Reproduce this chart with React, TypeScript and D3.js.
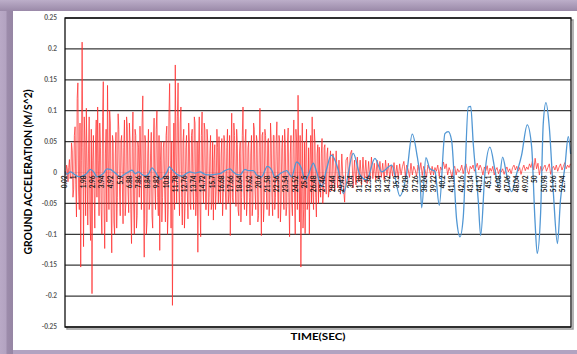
import React from "react";
import * as d3 from "d3";

const W = 577;
const H = 354;

// x tick labels (time, s)
const xLabels: string[] = [
  "0.02", "1", "1.98", "2.96", "3.94", "4.92", "5.9", "6.88", "7.86", "8.84", "9.82",
  "10.8", "11.78", "12.76", "13.74", "14.72", "15.7", "16.68", "17.66", "18.64", "19.62",
  "20.6", "21.58", "22.56", "23.54", "24.52", "25.5", "26.48", "27.46", "28.44", "29.42",
  "30.4", "31.38", "32.36", "33.34", "34.32", "35.3", "36.28", "37.26", "38.24", "39.22",
  "40.2", "41.18", "42.16", "43.14", "44.12", "45.1", "46.08", "47.06", "48.04", "49.02",
  "50", "50.98", "51.96", "52.94",
];

const yTicks: number[] = [0.25, 0.2, 0.15, 0.1, 0.05, 0, -0.05, -0.1, -0.15, -0.2, -0.25];
const yTickLabels: string[] = ["0.25", "0.2", "0.15", "0.1", "0.05", "0", "-0.05", "-0.1", "-0.15", "-0.2", "-0.25"];

// red series, strong-motion part: every 0.075 s from 0.02 s
const redDenseStart = 0.02;
const redDenseStep = 0.075;
const redDense: number[] = [
  0.002, -0.004, 0.012, 0.006, -0.015, 0.008, 0.021, -0.01, -0.006, 0.048, 0.035, -0.04, -0.028, 0.06, 0.074, -0.02, -0.072, 0.12, 0.145, -0.03,
  -0.06, 0.08, -0.153, 0.02, 0.211, 0.04, -0.12, 0.09, 0.05, -0.07, 0.104, 0.01, -0.085, 0.03, 0.09, -0.06, -0.11, 0.07, -0.196, 0.02,
  0.06, -0.03, -0.09, 0.05, 0.085, -0.04, 0.106, 0.02, -0.07, 0.08, 0.04, -0.06, -0.1, 0.09, 0.147, -0.05, -0.123, 0.03, 0.07, -0.08,
  0.141, 0.02, -0.06, 0.1, 0.08, -0.05, -0.13, 0.06, 0.05, -0.08, -0.1, 0.03, 0.065, -0.09, -0.04, 0.095, 0.07, -0.03, -0.07, 0.05,
  0.06, -0.02, -0.083, 0.04, 0.085, -0.07, -0.05, 0.09, 0.075, -0.03, -0.065, 0.08, 0.05, -0.06, -0.115, 0.04, 0.098, -0.05, -0.1, 0.07,
  0.06, -0.09, -0.07, 0.05, 0.04, -0.04, 0.075, 0.02, -0.06, 0.08, 0.124, -0.03, -0.137, 0.06, 0.05, -0.1, -0.08, 0.03, 0.07, -0.06,
  -0.05, 0.03, 0.065, -0.07, -0.09, 0.05, 0.088, -0.02, -0.06, 0.07, 0.1, -0.04, -0.07, 0.06, -0.126, 0.02, 0.05, -0.08, -0.04, 0.04,
  0.05, -0.03, -0.08, 0.06, 0.075, -0.1, -0.06, 0.09, 0.144, 0.02, -0.09, 0.05, -0.215, -0.02, 0.08, -0.06, 0.174, 0.03, -0.05, 0.09,
  0.145, -0.02, -0.07, 0.08, 0.106, -0.04, -0.085, 0.05, 0.07, -0.09, -0.05, 0.04, 0.06, -0.03, -0.075, 0.08, 0.05, -0.05, -0.06, 0.06,
  0.07, -0.03, -0.06, 0.09, 0.08, -0.07, -0.04, 0.05, -0.129, 0.03, 0.09, -0.05, -0.104, 0.06, 0.098, -0.02, -0.05, 0.08, 0.069, -0.06,
  -0.06, 0.07, 0.05, -0.07, -0.04, 0.03, 0.06, -0.06, -0.05, 0.05, -0.077, 0.02, 0.045, -0.06, -0.03, 0.07, 0.04, -0.05, 0.058, -0.02,
  -0.05, 0.03, 0.055, -0.07, -0.04, 0.06, 0.05, -0.03, -0.06, 0.04, 0.07, -0.05, -0.035, 0.06, -0.102, 0.02, 0.096, -0.04, -0.05, 0.08,
  0.06, -0.02, -0.055, 0.07, 0.045, -0.06, -0.07, 0.03, 0.05, -0.08, -0.04, 0.06, 0.106, -0.03, -0.06, 0.05, 0.07, -0.07, -0.045, 0.04,
  0.05, -0.04, -0.085, 0.03, 0.06, -0.07, -0.05, 0.08, 0.07, -0.03, -0.06, 0.06, 0.05, -0.08, -0.07, 0.04, 0.104, -0.02, -0.102, 0.06,
  0.065, -0.08, -0.05, 0.07, 0.06, -0.03, -0.06, 0.05, 0.055, -0.07, -0.045, 0.08, 0.05, -0.04, -0.07, 0.06, 0.06, -0.06, -0.04, 0.05,
  0.082, -0.02, -0.074, 0.06, 0.05, -0.08, -0.05, 0.04, 0.06, -0.03, -0.06, 0.07, 0.045, -0.07, -0.055, 0.05, 0.072, -0.04, -0.104, 0.03,
  0.06, -0.05, -0.07, 0.04, 0.085, -0.03, -0.1, 0.07, 0.05, -0.06, 0.125, 0.02, -0.08, 0.06, -0.153, -0.03, 0.08, -0.09, -0.06, 0.05,
  -0.099, 0.03, 0.07, -0.06, -0.05, 0.04, -0.1, 0.02, 0.06, -0.05, 0.09, -0.03, -0.06, 0.07, 0.05, -0.04, -0.072, 0.03, 0.045, -0.05,
  0.041, -0.02, -0.04, 0.03, 0.055, -0.05, -0.03, 0.04, 0.045, -0.02, -0.035, 0.03, 0.04, -0.04, -0.03, 0.02, 0.035, -0.03, -0.025, 0.03,
];

// red series, coda: every 0.15 s from 28.52 s
const redCodaStart = 28.52;
const redCodaStep = 0.15;
const redCoda: number[] = [
  0.03, -0.03, 0.035, -0.025, 0.02, -0.035, 0.03, -0.02, -0.048, 0.02,
  0.025, -0.02, 0.03, 0.036, -0.025, 0.02, -0.02, 0.025, -0.015, 0.02,
  -0.02, 0.025, -0.015, 0.02, -0.018, 0.018, -0.012, 0.025, -0.01, 0.015,
  -0.012, 0.02, -0.01, 0.018, -0.008, 0.015, -0.012, 0.02, -0.005, 0.015,
  -0.01, 0.012, -0.006, 0.016, -0.008, 0.012, -0.01, 0.014, -0.004, 0.01,
  0.018, -0.006, 0.012, 0.005, -0.008, 0.015, -0.004, 0.01, 0.004, -0.006,
  0.012, 0.002, 0.016, -0.005, 0.01, 0.004, -0.008, 0.012, 0.006, -0.004,
  0.01, -0.004, 0.008, 0.002, 0.012, -0.006, 0.009, 0.004, 0.017, 0.006,
  0.014, -0.004, 0.008, 0.002, -0.008, 0.006, 0.01, -0.004, 0.006, 0.001,
  0.004, 0.012, -0.002, 0.008, 0.014, 0.003, -0.003, 0.01, 0.006, 0.012,
  0.002, 0.008, 0.015, 0.004, 0.012, 0.006, -0.004, 0.009, 0.003, 0.011,
  -0.003, 0.007, 0.002, 0.01, -0.004, 0.004, 0.008, -0.002, 0.005, 0.001,
  0.006, -0.003, 0.004, 0.009, 0.001, 0.006, -0.002, 0.008, 0.012, 0.004,
  0.01, 0.002, 0.008, -0.003, 0.006, 0.012, 0.003, 0.009, 0.005, 0.014,
  0.008, 0.018, 0.004, 0.023, 0.006, 0.015, -0.004, 0.01, 0.003, 0.008,
  0.012, 0.002, 0.008, 0.014, -0.003, 0.006, 0.01, 0.004, 0.012, 0.002,
  0.009, 0.014, 0.004, 0.01, 0.016, 0.006, 0.012, 0.008, 0.014,
];

// blue series: times (s) and values read at its turning points
const blueTimes: number[] = [
  0.02, 0.21, 0.57, 0.92, 1.27, 1.63, 1.98, 2.34, 2.69, 3.05, 3.4, 3.76, 4.11, 4.46, 4.82,
  5.35, 5.88, 6.41, 6.77, 7.12, 7.48, 7.83, 8.18, 8.54, 8.89, 9.25, 9.6, 10.13, 10.49, 10.84,
  11.09, 11.37, 11.9, 12.43, 12.96, 13.28, 13.82, 14.35, 14.88, 15.41, 15.94, 16.47, 17.0,
  17.54, 17.89, 18.24, 18.6, 19.13, 19.48, 20.02, 20.37, 20.9, 21.5, 21.97, 22.32, 22.85,
  23.56, 24.09, 24.62, 25.15, 25.51, 25.86, 26.39, 26.75, 27.28, 27.81, 28.3, 29.04, 29.58,
  30.64, 31.35, 32.06, 32.94, 33.66, 34.72, 35.6, 36.31, 36.91, 37.38, 37.73, 37.91, 38.36,
  38.79, 39.32, 39.78, 40.38, 40.73, 41.09, 41.63, 41.98, 42.33, 42.86, 43.12, 43.39, 43.92,
  44.18, 44.63, 45.16, 45.7, 46.05, 46.51, 46.94, 47.47, 48.0, 48.53, 49.13, 49.6, 49.95,
  50.19, 50.55, 50.83, 51.12, 51.47, 51.89, 52.34, 52.66, 53.13, 53.49, 53.74,
];
const blueValues: number[] = [
  0.001, -0.003, 0.001, -0.002, -0.006, -0.007, -0.005, -0.001, 0.005, 0.001, -0.007, -0.005, -0.001, 0.006, 0.005,
  -0.001, -0.007, -0.002, 0.001, 0.004, -0.002, 0.001, -0.003, -0.006, -0.002, 0.0075, 0.001, -0.011, -0.007, 0.001,
  0.009, 0.005, -0.003, -0.006, -0.001, 0.001, -0.001, 0.001, -0.003, -0.004, -0.003, -0.002, 0.003,
  0.006, 0.001, -0.003, -0.004, 0.005, 0.003, 0.003, -0.004, -0.007, 0.01, 0.004, -0.008, -0.002,
  0.003, -0.007, 0.017, 0.006, -0.012, -0.004, 0.015, 0.001, -0.023, 0.006, 0.028, 0.004, -0.034,
  0.031, -0.004, -0.012, 0.023, 0.001, 0.012, -0.038, -0.002, 0.062, 0.031, -0.01, -0.057, 0.024,
  0.006, 0.002, -0.053, 0.063, 0.066, 0.052, -0.077, -0.104, -0.072, 0.106, 0.107, 0.047, -0.045,
  -0.102, -0.002, 0.041, 0.004, -0.023, 0.025, -0.004, -0.031, -0.002, 0.028, 0.077, 0.041, -0.077,
  -0.131, -0.066, 0.079, 0.113, 0.074, -0.029, -0.115, -0.045, 0.009, 0.058, 0.03,
];

const PL = 65, PR = 571, PT = 18, PB = 327;

export default function App() {
  const x = d3.scaleLinear().domain([0, 53.78]).range([PL, PR]);
  const y = d3.scaleLinear().domain([-0.25, 0.25]).range([PB, PT]);

  const redPts: [number, number][] = [
    ...redDense.map((v, i) => [redDenseStart + i * redDenseStep, v] as [number, number]),
    ...redCoda.map((v, i) => [redCodaStart + i * redCodaStep, v] as [number, number]),
  ];
  const bluePts: [number, number][] = blueTimes.map((t, i) => [t, blueValues[i]]);

  const redLine = d3.line<[number, number]>().x(d => x(d[0])).y(d => y(d[1]));
  const blueLine = d3
    .line<[number, number]>()
    .x(d => x(d[0]))
    .y(d => y(d[1]))
    .curve(d3.curveMonotoneX);

  const font = "Lato, 'Liberation Sans', Arial, sans-serif";

  return (
    <svg width={W} height={H} style={{ position: "absolute", left: 0, top: 0 }} xmlns="http://www.w3.org/2000/svg">
      <defs>
        <linearGradient id="topband" x1="0" y1="0" x2="0" y2="1">
          <stop offset="0" stopColor="#bcaec9" />
          <stop offset="1" stopColor="#9a89a8" />
        </linearGradient>
        <linearGradient id="leftband" x1="0" y1="0" x2="1" y2="0">
          <stop offset="0" stopColor="#b9a9c6" />
          <stop offset="0.45" stopColor="#b3a3c1" />
          <stop offset="0.55" stopColor="#9c8baa" />
          <stop offset="1" stopColor="#9686a4" />
        </linearGradient>
      </defs>
      <rect x={0} y={0} width={W} height={H} fill="#b2a3c1" />
      <rect x={0} y={0} width={13} height={H} fill="url(#leftband)" />
      <rect x={0} y={0} width={W} height={11} fill="url(#topband)" />
      <rect x={13} y={11} width={W - 13} height={339} fill="#ffffff" />

      {/* plot shadow */}
      <rect x={PL + 2} y={PT + 2} width={PR - PL} height={PB - PT} fill="none" stroke="#9a9a9a" strokeWidth={1.5} />
      <rect x={PL} y={PT} width={PR - PL} height={PB - PT} fill="#ffffff" />

      {/* gridlines */}
      {yTicks.filter(t => t !== 0).map(t => (
        <line key={t} x1={PL} x2={PR} y1={y(t)} y2={y(t)} stroke="#3a3a3a" strokeWidth={1.3} />
      ))}
      <line x1={PL} x2={PR} y1={y(0)} y2={y(0)} stroke="#d8d8d8" strokeWidth={0.8} />

      {/* y tick labels */}
      {yTicks.map((t, i) => (
        <text key={"yl" + i} x={57} y={y(t)} dy="0.35em" textAnchor="end" fontSize={6.5} fontWeight="bold" fill="#595959" fontFamily={font}>
          {yTickLabels[i]}
        </text>
      ))}

      {/* series */}
      <path d={redLine(redPts) || ""} fill="none" stroke="#ff2b2b" strokeWidth={0.85} strokeOpacity={0.85} strokeLinejoin="round" />
      <path d={blueLine(bluePts) || ""} fill="none" stroke="#5197d4" strokeWidth={1.3} />

      {/* x labels */}
      {xLabels.map((l, i) => (
        <text key={"xl" + i} transform={`translate(${x(parseFloat(l)) + 2},${y(0) + 3}) rotate(-90)`} textAnchor="end" fontSize={6.5} fontWeight="bold" fill="#1a1a1a" fontFamily={font}>
          {l}
        </text>
      ))}

      {/* plot border */}
      <rect x={PL} y={PT} width={PR - PL} height={PB - PT} fill="none" stroke="#111" strokeWidth={1.3} />

      {/* axis titles */}
      <text transform={`translate(32,172) rotate(-90)`} textAnchor="middle" fontSize={11.5} fontWeight="bold" fill="#000" fontFamily={font} textLength={165} lengthAdjust="spacingAndGlyphs">
        GROUND ACCELERATION (M/S^2)
      </text>
      <text x={318} y={340} textAnchor="middle" fontSize={9.5} fontWeight="bold" fill="#000" fontFamily={font} textLength={55} lengthAdjust="spacingAndGlyphs">
        TIME(SEC)
      </text>
    </svg>
  );
}
